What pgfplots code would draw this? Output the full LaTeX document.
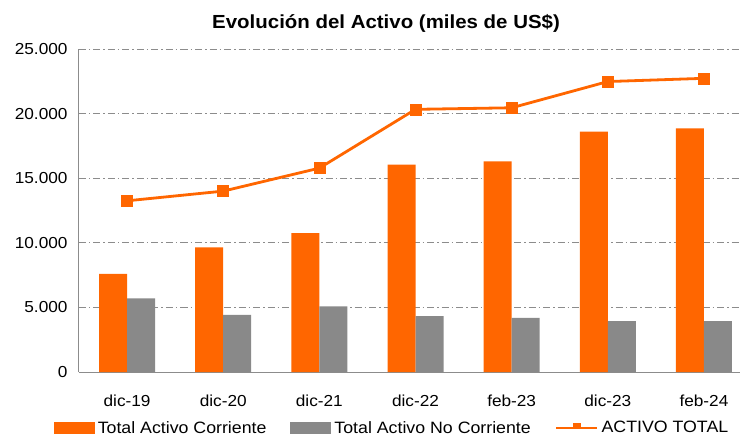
\documentclass[border=0pt]{standalone}
\usepackage{fontspec}
\setmainfont{Liberation Sans}[FakeStretch=1.08]
\usepackage{pgfplots}
\pgfplotsset{compat=1.18}
\definecolor{cor}{HTML}{FF6600}
\definecolor{gr}{HTML}{898989}
\definecolor{gridc}{HTML}{8C8C8C}
\begin{document}
\begin{tikzpicture}
\begin{axis}[
 at={(0,0)}, anchor=south west,
 scale only axis, width=661bp, height=323bp,
 xmin=-0.5, xmax=6.375, ymin=0, ymax=25000,
 xtick={0,...,6},
 xticklabels={dic-19,dic-20,dic-21,dic-22,feb-23,dic-23,feb-24},
 ytick={0,5000,10000,15000,20000,25000},
 axis lines*=left,
 axis line style={draw=gridc, line width=1bp},
 tick style={draw=none},
 ymajorgrids,
 major grid style={draw=gridc, dash pattern=on 7bp off 3bp on 1.5bp off 3bp, line width=0.9bp},
 scaled y ticks=false,
 /pgf/number format/.cd, 1000 sep={.}, assume math mode=true,
 /pgfplots/.cd,
 ticklabel style={font=\fontsize{16}{19}\selectfont},
 xticklabel style={yshift=-19bp},
 yticklabel style={xshift=-8bp},
 legend style={at={(axis description cs:0.4735,0)}, anchor=center, yshift=-56bp,
   draw=none, legend columns=3, font=\fontsize{16.5}{19}\selectfont,
   /tikz/every odd column/.append style={column sep=1bp},
   /tikz/every even column/.append style={column sep=22bp},
   inner sep=0pt},
 clip=false,
]
\addplot[ybar, bar width=28bp, bar shift=-14bp, fill=cor, draw=none,
  legend image code/.code={\fill[cor] (0bp,-6bp) rectangle (41bp,6bp);}]
 coordinates {(0,7600) (1,9650) (2,10750) (3,16050) (4,16300) (5,18600) (6,18850)};
\addlegendentry{Total Activo Corriente}
\addplot[ybar, bar width=28bp, bar shift=14bp, fill=gr, draw=none,
  legend image code/.code={\fill[gr] (0bp,-6bp) rectangle (41bp,6bp);}]
 coordinates {(0,5700) (1,4420) (2,5070) (3,4320) (4,4190) (5,3930) (6,3930)};
\addlegendentry{Total Activo No Corriente}
\addplot[cor, line width=2.8bp, mark=square*, mark size=5.5bp, mark options={line width=0.5bp},
  legend image code/.code={\draw[cor, line width=2.8bp] (0bp,0bp) -- (41bp,0bp); \fill[cor] (18bp,0bp) rectangle (23bp,4bp);}]
 coordinates {(0,13250) (1,14000) (2,15780) (3,20330) (4,20450) (5,22480) (6,22730)};
\addlegendentry{ACTIVO TOTAL}
\node[anchor=base, font=\fontsize{19}{22}\selectfont\bfseries] at (axis description cs:0.4645,1) [yshift=20bp] {Evolución del Activo (miles de US\$)};
\end{axis}
\pgfresetboundingbox
\useasboundingbox (-79bp,-64bp) rectangle (661bp,372bp);
\end{tikzpicture}
\end{document}
